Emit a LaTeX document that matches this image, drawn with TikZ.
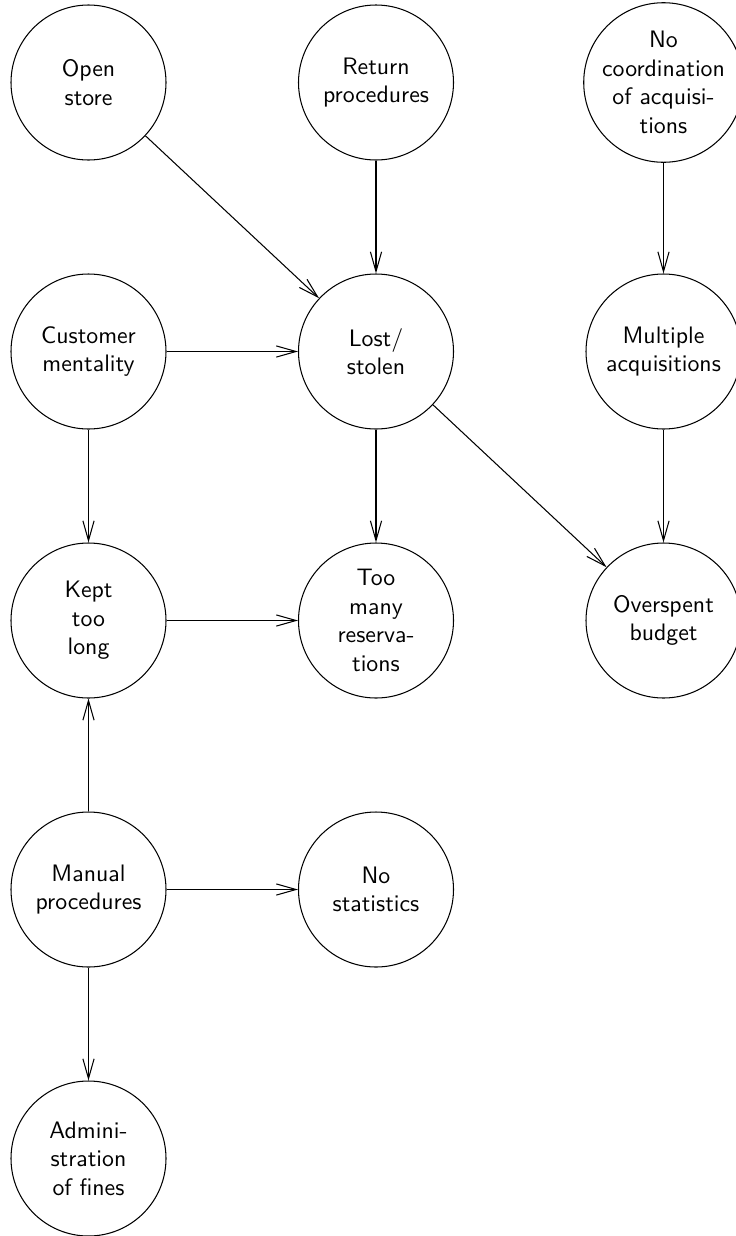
\documentclass[tikz,border=0pt]{standalone}
\usetikzlibrary{arrows.meta}
\begin{document}
\begin{tikzpicture}[x=0.42pt,y=-0.42pt,
  cause/.style={circle,draw,line width=0.44pt,minimum size=65.1pt,inner sep=0pt,
    align=center,font=\sffamily},
  link/.style={line width=0.44pt,-{Straight Barb[length=8.3pt,width=4.7pt,line width=0.44pt]}}]
\useasboundingbox (0,0) rectangle (735,1236);
% first column
\node[cause] (open)   at (88.5,82.5)   {Open\\store};
\node[cause] (cust)   at (88.5,351.5)  {Customer\\mentality};
\node[cause] (kept)   at (88.5,620.5)  {Kept\\too\\long};
\node[cause] (manual) at (88.5,889.5)  {Manual\\procedures};
\node[cause] (admin)  at (88.5,1158.5) {Admini-\\stration\\of fines};
% second column
\node[cause] (ret)    at (376,82.5)    {Return\\procedures};
\node[cause] (lost)   at (376,351.5)   {Lost/\\stolen};
\node[cause] (many)   at (376,620.5)   {Too\\many\\reserva-\\tions};
\node[cause] (stats)  at (376,889.5)   {No\\statistics};
% third column
\node[cause] (coord)  at (663.5,82.5)  {No\\coordination\\of acquisi-\\tions};
\node[cause] (mult)   at (663.5,351.5) {Multiple\\acquisitions};
\node[cause] (budget) at (663.5,620.5) {Overspent\\budget};
% cause-effect links
\draw[link] (open) -- (lost);
\draw[link] (ret) -- (lost);
\draw[link] (coord) -- (mult);
\draw[link] (cust) -- (lost);
\draw[link] (cust) -- (kept);
\draw[link] (lost) -- (many);
\draw[link] (lost) -- (budget);
\draw[link] (mult) -- (budget);
\draw[link] (kept) -- (many);
\draw[link] (manual) -- (kept);
\draw[link] (manual) -- (stats);
\draw[link] (manual) -- (admin);
\end{tikzpicture}
\end{document}
